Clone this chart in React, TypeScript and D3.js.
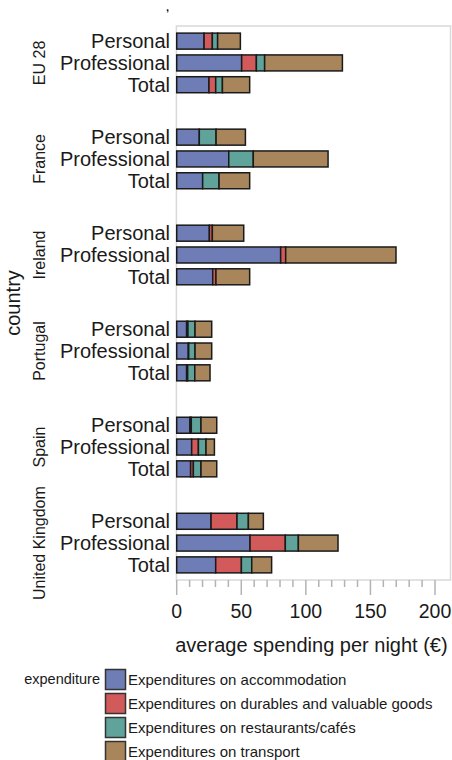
import React from "react";
import * as d3 from "d3";

const countries = ["EU 28", "France", "Ireland", "Portugal", "Spain", "United Kingdom"];
const tripTypes = ["Personal", "Professional", "Total"];
const expenditures = [
  "Expenditures on accommodation",
  "Expenditures on durables and valuable goods",
  "Expenditures on restaurants/cafés",
  "Expenditures on transport",
];
// values per country x trip type (country-major order)
const accommodation = [21.2, 50.3, 25.0, 17.5, 40.3, 20.1, 25.3, 80.5, 27.9, 7.7, 9.0, 7.7, 10.3, 11.6, 10.8, 26.6, 56.8, 30.2];
const durables = [6.4, 11.4, 5.2, 0, 0, 0, 2.3, 3.9, 2.5, 1.0, 0.3, 0.8, 1.0, 5.2, 2.1, 20.1, 27.3, 19.9];
const restaurants = [4.1, 6.4, 5.2, 13.0, 19.0, 12.7, 0, 0, 0, 5.5, 4.9, 5.5, 7.5, 5.9, 5.9, 8.8, 10.1, 8.0];
const transport = [17.6, 60.2, 21.1, 22.7, 57.9, 23.7, 24.3, 85.4, 26.1, 12.9, 12.9, 11.8, 12.2, 6.5, 12.2, 11.6, 30.7, 15.4];
const xTicksMajor = [0, 50, 100, 150, 200];

const colors = ["#6F7DB6", "#D35A5A", "#5FA39A", "#A8855A"];
const FONT = "'Liberation Sans', Arial, sans-serif";

export default function App() {
  const W = 452, H = 760;
  const panelTop = 26, panelBottom = 580;
  const x = d3.scaleLinear().domain([0, 200]).range([176.7, 435]);
  const panelLeft = x(0) - 0.3;
  const panelRight = 450.5;

  const yGroup = d3.scaleBand<string>().domain(countries).range([panelTop, panelBottom]).paddingInner(0.319).paddingOuter(0.044);
  const yRow = d3.scaleBand<string>().domain(tripTypes).range([0, yGroup.bandwidth()]).paddingInner(0.266).paddingOuter(0.133);

  const series = [accommodation, durables, restaurants, transport];
  const rows: { c: string; t: string; i: number }[] = [];
  countries.forEach((c, ci) => tripTypes.forEach((t, ti) => rows.push({ c, t, i: ci * 3 + ti })));
  const table = rows.map((r) => {
    const o: any = { key: r.c + "|" + r.t, c: r.c, t: r.t };
    expenditures.forEach((e, k) => (o[e] = series[k][r.i]));
    return o;
  });
  const stacked = d3.stack<any>().keys(expenditures)(table);

  const minorTicks = d3.range(0, 201, 10);

  return (
    <svg width={W} height={H} style={{ position: "absolute", left: 0, top: 0 }} fontFamily={FONT}>
      <rect width={W} height={H} fill="#fff" />
      <text x={166} y={11} fontSize={11} fontWeight="bold" fill="#101830">,</text>
      <rect x={panelLeft} y={panelTop} width={panelRight - panelLeft} height={panelBottom - panelTop} fill="#fff" stroke="#d9d9d9" strokeWidth={1.5} />
      {stacked.map((layer, k) => (
        <g key={k} fill={colors[k]} stroke="#1a1a1a" strokeWidth={1.5}>
          {layer.map((d: any, j: number) => {
            const r = table[j];
            const w = x(d[1]) - x(d[0]);
            if (w <= 0) return null;
            return (
              <rect key={j} x={x(d[0])} y={(yGroup(r.c) as number) + (yRow(r.t) as number)} width={w} height={yRow.bandwidth()} />
            );
          })}
        </g>
      ))}
      {/* row labels */}
      {rows.map((r) => (
        <text key={r.i} x={170} y={(yGroup(r.c) as number) + (yRow(r.t) as number) + yRow.bandwidth() / 2 + 7} textAnchor="end" fontSize={20} fill="#1a1a1a">
          {r.t}
        </text>
      ))}
      {/* strip labels */}
      {countries.map((c) => {
        const cy = (yGroup(c) as number) + yGroup.bandwidth() / 2;
        return (
          <text key={c} transform={`translate(45,${cy}) rotate(-90)`} textAnchor="middle" fontSize={16} fill="#1a1a1a">
            {c}
          </text>
        );
      })}
      <text transform={`translate(20,${(panelTop + panelBottom) / 2}) rotate(-90)`} textAnchor="middle" fontSize={20} fill="#1a1a1a">
        country
      </text>
      {/* x axis */}
      {minorTicks.map((t) => (
        <line key={t} x1={x(t)} x2={x(t)} y1={panelBottom} y2={panelBottom + (t % 50 === 0 ? 15 : 7)} stroke="#b3b3b3" strokeWidth={1.5} />
      ))}
      {xTicksMajor.map((t) => (
        <text key={t} x={x(t)} y={618} textAnchor="middle" fontSize={19.5} fill="#1a1a1a">
          {t}
        </text>
      ))}
      <text x={(panelLeft + panelRight) / 2 - 2} y={652} textAnchor="middle" fontSize={20} fill="#1a1a1a">
        average spending per night (€)
      </text>
      {/* legend */}
      <text x={100} y={684} textAnchor="end" fontSize={14.5} fill="#1a1a1a">expenditure</text>
      {expenditures.map((e, k) => {
        const ky = 669.5 + k * 24;
        return (
          <g key={e}>
            <rect x={105.5} y={ky} width={20} height={20} fill={colors[k]} stroke="#333" strokeWidth={1.5} />
            <text x={128} y={ky + 15} fontSize={15} fill="#1a1a1a">{e}</text>
          </g>
        );
      })}
    </svg>
  );
}
